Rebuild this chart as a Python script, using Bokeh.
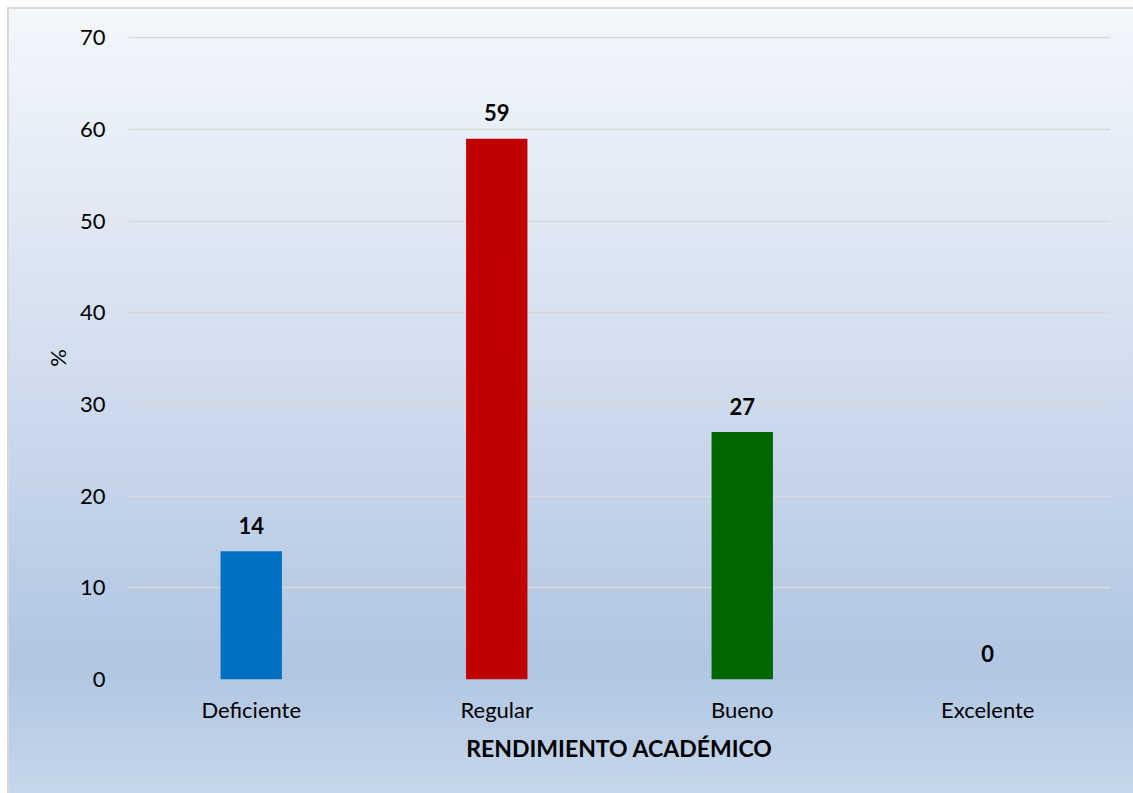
from bokeh.plotting import figure
from bokeh.models import ColumnDataSource, FactorRange, FixedTicker
from bokeh.core.properties import value
from bokeh.embed import file_html
from bokeh.resources import INLINE

categories = ["Deficiente", "Regular", "Bueno", "Excelente"]
percentages = [14, 59, 27, 0]
bar_colors = ["#0070C0", "#C00000", "#006600", "#4472C4"]
y_ticks = [0, 10, 20, 30, 40, 50, 60, 70]

FONT = "Lato"

src = ColumnDataSource(dict(
    cat=categories,
    val=percentages,
    color=bar_colors,
    label=[str(v) for v in percentages],
))

p = figure(
    x_range=FactorRange(*categories, range_padding=0),
    y_range=(0, 70.15),
    width=1133, height=793,
    output_backend="svg", toolbar_location=None,
    min_border_left=128, min_border_right=23,
    min_border_top=36, min_border_bottom=114,
    styles={
        "background": "linear-gradient(180deg, #F5F8FC 0%, #D3DEEF 45%, #B1C6E2 84%, #C6D6EB 100%)",
        "box-shadow": "inset 7px 7px 0 0 #FFFFFF, inset 9px 9px 0 0 #D9D9D9",
    },
)
p.background_fill_alpha = 0
p.border_fill_alpha = 0
p.outline_line_color = None

p.vbar(x="cat", top="val", width=0.25, fill_color="color", line_alpha=0, source=src)
p.text(x="cat", y="val", text="label", source=src,
       text_align="center", text_baseline="middle", y_offset=-26,
       text_font=value(FONT), text_font_style="bold",
       text_font_size="22px", text_color="#000000")

p.xgrid.grid_line_color = None
p.ygrid.grid_line_color = "#D9D9D9"
p.ygrid.grid_line_width = 1.5
p.yaxis.ticker = FixedTicker(ticks=y_ticks)

for ax in (p.xaxis[0], p.yaxis[0]):
    ax.axis_line_color = None
    ax.major_tick_line_color = None
    ax.minor_tick_line_color = None
    ax.major_label_text_font = FONT
    ax.major_label_text_font_size = "22px"
    ax.major_label_text_color = "#000000"
    ax.axis_label_text_font = FONT
    ax.axis_label_text_color = "#000000"

p.yaxis.major_label_standoff = 17
p.yaxis.axis_label = "%"
p.yaxis.axis_label_text_font_style = "normal"
p.yaxis.axis_label_text_font_size = "22px"
p.yaxis.axis_label_standoff = 6

p.xaxis.major_label_standoff = 10
p.xaxis.axis_label = "RENDIMIENTO ACADÉMICO"
p.xaxis.axis_label_text_font_style = "bold"
p.xaxis.axis_label_text_font_size = "23px"
p.xaxis.axis_label_standoff = 8

open("out.html", "w").write(file_html(p, INLINE))
